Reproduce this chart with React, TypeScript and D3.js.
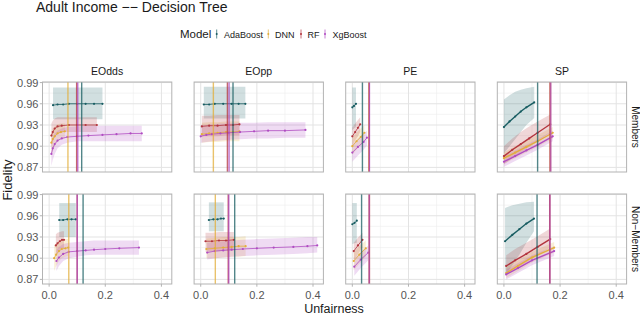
import React from 'react';
import * as d3 from 'd3';

// each point: [unfairness, fidelity, lower, upper]
type Pt = [number, number, number, number];

const models = ['AdaBoost', 'DNN', 'RF', 'XgBoost'];
const colors = ['#185d62', '#e2ae39', '#b3353e', '#b04bc2'];
const metrics = ['EOdds', 'EOpp', 'PE', 'SP'];
const groups = ['Members', 'Non\u2212Members'];
const xTicks = [0, 0.2, 0.4];
const xMinor = [0.1, 0.3];
const yTicks = [0.87, 0.9, 0.93, 0.96, 0.99];
const yMinor = [0.885, 0.915, 0.945, 0.975];

// ---- EOdds ----
const eoddsMembers: Pt[][] = [
    [[0.014, 0.958, 0.938, 0.983], [0.03, 0.959, 0.938, 0.983], [0.05, 0.959, 0.938, 0.983], [0.07, 0.96, 0.938, 0.983], [0.1, 0.96, 0.938, 0.983], [0.13, 0.96, 0.938, 0.983], [0.16, 0.96, 0.938, 0.983], [0.19, 0.96, 0.938, 0.983]],
    [[0.008, 0.905, 0.886, 0.921], [0.013, 0.91, 0.893, 0.925], [0.02, 0.914, 0.9, 0.928], [0.03, 0.918, 0.906, 0.931], [0.042, 0.92, 0.91, 0.932], [0.056, 0.921, 0.911, 0.932]],
    [[0.008, 0.915, 0.899, 0.932], [0.013, 0.92, 0.906, 0.936], [0.02, 0.925, 0.913, 0.939], [0.03, 0.928, 0.918, 0.941], [0.045, 0.929, 0.92, 0.941], [0.07, 0.93, 0.92, 0.941], [0.1, 0.93, 0.92, 0.941], [0.13, 0.93, 0.92, 0.941], [0.17, 0.93, 0.92, 0.941]],
    [[0.008, 0.889, 0.872, 0.905], [0.013, 0.897, 0.881, 0.912], [0.02, 0.903, 0.889, 0.918], [0.03, 0.908, 0.897, 0.922], [0.045, 0.911, 0.902, 0.925], [0.065, 0.913, 0.905, 0.927], [0.1, 0.914, 0.907, 0.928], [0.14, 0.915, 0.907, 0.929], [0.19, 0.916, 0.907, 0.929], [0.24, 0.917, 0.907, 0.929], [0.29, 0.918, 0.907, 0.929], [0.33, 0.918, 0.907, 0.929]],
];
const eoddsMembersThr = [0.116, 0.067, 0.098, 0.102];

const eoddsNonMembers: Pt[][] = [
    [[0.036, 0.954, 0.93, 0.978], [0.05, 0.954, 0.93, 0.978], [0.065, 0.955, 0.93, 0.978], [0.08, 0.955, 0.93, 0.978], [0.095, 0.955, 0.93, 0.978]],
    [[0.018, 0.9, 0.882, 0.918], [0.025, 0.905, 0.889, 0.921], [0.035, 0.91, 0.896, 0.924], [0.045, 0.913, 0.9, 0.926], [0.058, 0.914, 0.902, 0.927], [0.068, 0.915, 0.903, 0.927]],
    [[0.024, 0.918, 0.905, 0.934], [0.03, 0.921, 0.908, 0.936], [0.038, 0.924, 0.912, 0.937], [0.046, 0.926, 0.914, 0.938], [0.053, 0.926, 0.914, 0.938]],
    [[0.026, 0.896, 0.882, 0.912], [0.035, 0.901, 0.889, 0.916], [0.05, 0.906, 0.896, 0.92], [0.07, 0.909, 0.9, 0.922], [0.1, 0.91, 0.902, 0.923], [0.13, 0.911, 0.904, 0.924], [0.16, 0.912, 0.905, 0.925], [0.2, 0.913, 0.905, 0.925], [0.25, 0.914, 0.905, 0.925], [0.32, 0.915, 0.905, 0.925]],
];
const eoddsNonMembersThr = [0.121, 0.07, 0.1, 0.1];

// ---- EOpp ----
const eoppMembers: Pt[][] = [
    [[0.011, 0.959, 0.939, 0.984], [0.03, 0.959, 0.939, 0.984], [0.05, 0.96, 0.939, 0.984], [0.08, 0.96, 0.939, 0.984], [0.11, 0.96, 0.939, 0.984], [0.135, 0.96, 0.939, 0.984], [0.159, 0.96, 0.939, 0.984]],
    [[0.004, 0.917, 0.905, 0.933], [0.03, 0.918, 0.906, 0.934], [0.06, 0.919, 0.906, 0.934], [0.09, 0.92, 0.907, 0.935], [0.115, 0.92, 0.907, 0.935], [0.138, 0.921, 0.907, 0.935]],
    [[0.004, 0.928, 0.914, 0.943], [0.03, 0.929, 0.914, 0.943], [0.06, 0.929, 0.914, 0.944], [0.09, 0.93, 0.915, 0.944], [0.115, 0.93, 0.915, 0.944], [0.138, 0.931, 0.915, 0.944]],
    [[0.0, 0.914, 0.905, 0.93], [0.02, 0.916, 0.906, 0.93], [0.04, 0.917, 0.907, 0.931], [0.07, 0.918, 0.908, 0.932], [0.1, 0.919, 0.909, 0.932], [0.14, 0.92, 0.91, 0.933], [0.19, 0.921, 0.911, 0.933], [0.24, 0.922, 0.911, 0.934], [0.3, 0.922, 0.912, 0.934], [0.373, 0.923, 0.912, 0.934]],
];
const eoppMembersThr = [0.115, 0.045, 0.095, 0.101];

const eoppNonMembers: Pt[][] = [
    [[0.029, 0.954, 0.938, 0.979], [0.045, 0.955, 0.938, 0.979], [0.06, 0.955, 0.938, 0.979], [0.072, 0.956, 0.938, 0.979], [0.082, 0.956, 0.938, 0.979]],
    [[0.02, 0.913, 0.9, 0.928], [0.05, 0.914, 0.9, 0.929], [0.08, 0.915, 0.901, 0.93], [0.11, 0.916, 0.902, 0.93], [0.135, 0.917, 0.902, 0.93], [0.16, 0.917, 0.903, 0.931]],
    [[0.017, 0.924, 0.909, 0.936], [0.04, 0.924, 0.91, 0.936], [0.065, 0.925, 0.91, 0.937], [0.09, 0.925, 0.911, 0.937], [0.118, 0.926, 0.911, 0.937]],
    [[0.023, 0.908, 0.898, 0.922], [0.05, 0.91, 0.9, 0.923], [0.08, 0.911, 0.901, 0.924], [0.11, 0.912, 0.902, 0.925], [0.15, 0.913, 0.903, 0.926], [0.2, 0.914, 0.904, 0.927], [0.26, 0.915, 0.905, 0.928], [0.33, 0.916, 0.906, 0.929], [0.38, 0.917, 0.907, 0.93], [0.415, 0.918, 0.908, 0.93]],
];
const eoppNonMembersThr = [0.121, 0.052, 0.098, 0.1];

// ---- PE ----
const peMembers: Pt[][] = [
    [[0.0, 0.955, 0.923, 0.983], [0.006, 0.957, 0.925, 0.983], [0.013, 0.96, 0.927, 0.983]],
    [[0.0, 0.9, 0.888, 0.912], [0.015, 0.907, 0.895, 0.919], [0.03, 0.913, 0.901, 0.925], [0.043, 0.919, 0.907, 0.93]],
    [[0.0, 0.914, 0.902, 0.926], [0.01, 0.92, 0.908, 0.932], [0.02, 0.926, 0.914, 0.937], [0.028, 0.931, 0.92, 0.941]],
    [[0.0, 0.891, 0.878, 0.903], [0.02, 0.899, 0.887, 0.911], [0.04, 0.906, 0.895, 0.917], [0.052, 0.912, 0.901, 0.922]],
];
const peMembersThr = [0.036, 0.059, 0.06, 0.061];

const peNonMembers: Pt[][] = [
    [[0.0, 0.948, 0.92, 0.978], [0.008, 0.95, 0.921, 0.978], [0.016, 0.953, 0.922, 0.978]],
    [[0.005, 0.896, 0.883, 0.909], [0.025, 0.905, 0.892, 0.917], [0.048, 0.914, 0.902, 0.925]],
    [[0.005, 0.91, 0.897, 0.922], [0.02, 0.918, 0.906, 0.929], [0.036, 0.926, 0.915, 0.936]],
    [[0.007, 0.888, 0.875, 0.9], [0.03, 0.898, 0.886, 0.909], [0.057, 0.908, 0.897, 0.918]],
];
const peNonMembersThr = [0.033, 0.06, 0.061, 0.06];

// ---- SP ----
const spMembers: Pt[][] = [
    [[0.0, 0.927, 0.89, 0.966], [0.02, 0.935, 0.9, 0.972], [0.04, 0.942, 0.91, 0.977], [0.06, 0.949, 0.92, 0.98], [0.08, 0.955, 0.93, 0.982], [0.108, 0.962, 0.94, 0.984]],
    [[0.0, 0.883, 0.875, 0.891], [0.04, 0.891, 0.883, 0.9], [0.08, 0.899, 0.891, 0.908], [0.12, 0.907, 0.899, 0.916], [0.174, 0.919, 0.911, 0.927]],
    [[0.0, 0.886, 0.874, 0.9], [0.03, 0.895, 0.883, 0.911], [0.06, 0.903, 0.891, 0.92], [0.09, 0.911, 0.899, 0.928], [0.12, 0.919, 0.907, 0.935], [0.165, 0.931, 0.919, 0.945]],
    [[0.0, 0.878, 0.871, 0.886], [0.04, 0.886, 0.879, 0.894], [0.08, 0.894, 0.887, 0.902], [0.12, 0.902, 0.895, 0.91], [0.174, 0.914, 0.907, 0.922]],
];
const spMembersThr = [0.12, 0.166, 0.164, 0.167];

const spNonMembers: Pt[][] = [
    [[0.004, 0.924, 0.875, 0.971], [0.03, 0.933, 0.89, 0.975], [0.055, 0.941, 0.905, 0.977], [0.08, 0.949, 0.922, 0.979], [0.107, 0.956, 0.938, 0.98]],
    [[0.008, 0.879, 0.872, 0.887], [0.05, 0.889, 0.882, 0.897], [0.1, 0.901, 0.894, 0.909], [0.179, 0.915, 0.908, 0.923]],
    [[0.008, 0.889, 0.877, 0.904], [0.04, 0.897, 0.885, 0.913], [0.08, 0.906, 0.894, 0.922], [0.12, 0.916, 0.904, 0.931], [0.165, 0.927, 0.915, 0.942]],
    [[0.008, 0.877, 0.87, 0.884], [0.05, 0.886, 0.879, 0.893], [0.1, 0.897, 0.89, 0.904], [0.179, 0.91, 0.903, 0.917]],
];
const spNonMembersThr = [0.118, 0.163, 0.163, 0.164];

const panels = [
    [eoddsMembers, eoppMembers, peMembers, spMembers],
    [eoddsNonMembers, eoppNonMembers, peNonMembers, spNonMembers],
];
const thresholds = [
    [eoddsMembersThr, eoppMembersThr, peMembersThr, spMembersThr],
    [eoddsNonMembersThr, eoppNonMembersThr, peNonMembersThr, spNonMembersThr],
];

const font = '"Liberation Sans", Arial, Helvetica, sans-serif';

export default function App() {
    const width = 640, height = 314;
    const panelLeft = 42.5, panelW = 129.3, gapX = 22.3, panelH = 90;
    const rowTops = [82, 194];

    const x = d3.scaleLinear().domain([-0.0236, 0.437]).range([0, panelW]);
    const y = d3.scaleLinear().domain([0.8635, 0.9908]).range([panelH, 0]);

    const line = d3.line<Pt>().x(d => x(d[0])).y(d => y(d[1]));
    const area = d3.area<Pt>().x(d => x(d[0])).y0(d => y(d[2])).y1(d => y(d[3]));

    const legendItems = [
        { x: 216.7, tx: 224 },
        { x: 268.3, tx: 275 },
        { x: 301, tx: 307.5 },
        { x: 325, tx: 332.5 },
    ];

    return (
        <svg width={width} height={height} style={{ position: 'absolute', left: 0, top: 0, background: '#fff' }}
            fontFamily={font}>
            <text x={36} y={12} fontSize={14} fill="#1a1a1a">Adult Income {'\u2212\u2212'} Decision Tree</text>

            {/* legend */}
            <text x={180} y={38} fontSize={11.5} fill="#1a1a1a">Model</text>
            {legendItems.map((it, i) => (
                <g key={models[i]}>
                    <line x1={it.x} x2={it.x} y1={29.5} y2={38.5} stroke={colors[i]} strokeOpacity={0.7} strokeWidth={1} />
                    <circle cx={it.x} cy={34} r={1} fill={colors[i]} />
                    <text x={it.tx} y={37.5} fontSize={9} fill="#1a1a1a">{models[i]}</text>
                </g>
            ))}

            {panels.map((row, ri) => row.map((series, ci) => {
                const left = panelLeft + ci * (panelW + gapX);
                const top = rowTops[ri];
                return (
                    <g key={ri + '-' + ci} transform={`translate(${left},${top})`}>
                        <rect width={panelW} height={panelH} fill="#fff" />
                        {xMinor.map(v => <line key={'xm' + v} x1={x(v)} x2={x(v)} y1={0} y2={panelH} stroke="#efefef" strokeWidth={0.6} />)}
                        {yMinor.map(v => <line key={'ym' + v} x1={0} x2={panelW} y1={y(v)} y2={y(v)} stroke="#efefef" strokeWidth={0.6} />)}
                        {xTicks.map(v => <line key={'xg' + v} x1={x(v)} x2={x(v)} y1={0} y2={panelH} stroke="#e3e3e3" strokeWidth={1} />)}
                        {yTicks.map(v => <line key={'yg' + v} x1={0} x2={panelW} y1={y(v)} y2={y(v)} stroke="#e3e3e3" strokeWidth={1} />)}

                        {series.map((s, mi) => (
                            <path key={'r' + mi} d={area(s) || ''} fill={colors[mi]} fillOpacity={0.2} />
                        ))}
                        {series.map((s, mi) => (
                            <g key={'l' + mi}>
                                <path d={line(s) || ''} fill="none" stroke={colors[mi]} strokeWidth={ci === 3 ? 1.4 : 0.8} />
                                {s.map((p, k) => <circle key={k} cx={x(p[0])} cy={y(p[1])} r={1.1} fill={colors[mi]} />)}
                            </g>
                        ))}
                        {thresholds[ri][ci].map((t, mi) => (
                            <line key={'t' + mi} x1={x(t)} x2={x(t)} y1={0} y2={panelH} stroke={colors[mi]} strokeOpacity={0.75} strokeWidth={1.4} />
                        ))}

                        <rect width={panelW} height={panelH} fill="none" stroke="#b3b3b3" strokeWidth={1} />

                        {ri === 0 && (
                            <text x={panelW / 2} y={-7} textAnchor="middle" fontSize={10.5} fill="#1a1a1a">{metrics[ci]}</text>
                        )}
                        {ci === 0 && yTicks.map(v => (
                            <g key={'yt' + v}>
                                <line x1={-2.7} x2={0} y1={y(v)} y2={y(v)} stroke="#b3b3b3" />
                                <text x={-4} y={y(v)} dy="0.36em" textAnchor="end" fontSize={11} fill="#555">{v.toFixed(2)}</text>
                            </g>
                        ))}
                        {ri === 1 && xTicks.map(v => (
                            <g key={'xt' + v}>
                                <line x1={x(v)} x2={x(v)} y1={panelH} y2={panelH + 2.7} stroke="#b3b3b3" />
                                <text x={x(v)} y={panelH + 14.5} textAnchor="middle" fontSize={11} fill="#555">{v.toFixed(1)}</text>
                            </g>
                        ))}
                        {ci === 3 && (
                            <text transform={`translate(${panelW + 5},${panelH / 2}) rotate(90)`} textAnchor="middle"
                                fontSize={10} fill="#1a1a1a">{groups[ri]}</text>
                        )}
                    </g>
                );
            }))}

            <text x={334} y={312.5} textAnchor="middle" fontSize={12.5} fill="#1a1a1a">Unfairness</text>
            <text transform="translate(11.5,180) rotate(-90)" textAnchor="middle" fontSize={13} fill="#1a1a1a">Fidelity</text>
        </svg>
    );
}
